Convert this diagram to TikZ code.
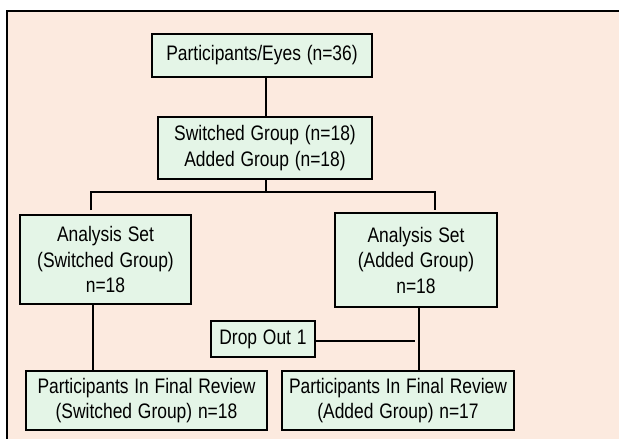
\documentclass[tikz,border=0pt]{standalone}
\usepackage{fontspec}
\setmainfont[FakeStretch=0.83,WordSpace=1.2]{Liberation Sans}
\definecolor{peach}{HTML}{FCEADF}
\definecolor{boxgreen}{HTML}{E4F5E7}
\begin{document}
\begin{tikzpicture}[x=1pt,y=-1pt,
  box/.style={draw=black,fill=boxgreen,line width=1.6pt,inner sep=0pt,align=center,
    font=\fontsize{21}{25.5}\selectfont},
  conn/.style={line width=1.7pt}]
\useasboundingbox (0,0) rectangle (619,439);
\clip (0,0) rectangle (619,439);
\fill[white] (0,0) rectangle (619,439);
\draw[line width=1.8pt,fill=peach] (7,11) rectangle (640,460);
\coordinate (j) at (266,192);
\coordinate (jl) at (91,192);
\coordinate (jr) at (435,192);
\coordinate (el) at (91,210);
\coordinate (er) at (435,210);
\coordinate (de) at (415,341);
\node[box,minimum width=220pt,minimum height=43pt] (top) at (262,55.5) {Participants/Eyes (n=36)};
\node[box,minimum width=214pt,minimum height=62pt] (grp) at (265,148) {Switched Group (n=18)\\Added Group (n=18)};
\node[box,minimum width=171pt,minimum height=89pt] (asl) at (105.5,259.5) {Analysis Set\\(Switched Group)\\n=18};
\node[box,minimum width=162pt,minimum height=94pt] (asr) at (416,260) {Analysis Set\\(Added Group)\\n=18};
\node[box,minimum width=104pt,minimum height=36pt] (drop) at (263,339) {Drop Out 1};
\node[box,minimum width=241pt,minimum height=59pt] (fl) at (146.5,400.5) {Participants In Final Review\\(Switched Group) n=18};
\node[box,minimum width=232pt,minimum height=59pt] (fr) at (398,400.5) {Participants In Final Review\\(Added Group) n=17};
\draw[conn] (top.south -| j) -- (grp.north -| j);
\draw[conn] (grp.south -| j) -- (j);
\draw[conn] (el) -- (jl) -- (jr) -- (er);
\draw[conn] (asl.south -| 93,0) -- (fl.north -| 93,0);
\draw[conn] (asr.south -| 419,0) -- (fr.north -| 419,0);
\draw[conn] (drop.east |- de) -- (de);
\end{tikzpicture}
\end{document}
